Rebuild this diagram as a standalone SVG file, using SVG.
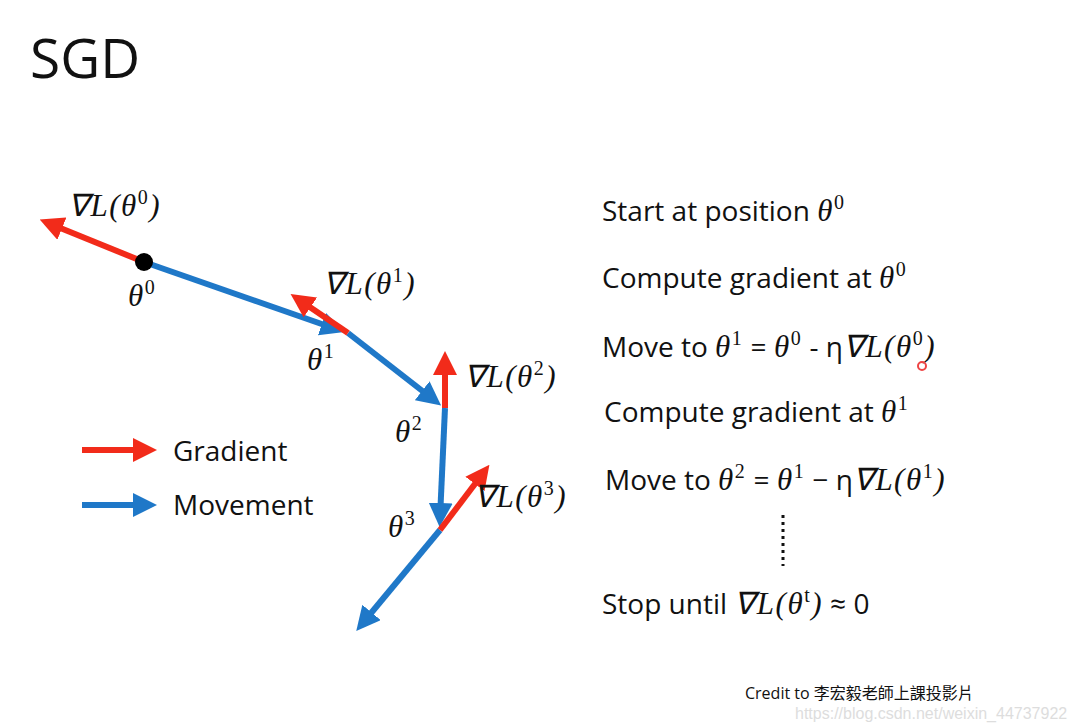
<svg xmlns="http://www.w3.org/2000/svg" width="1076" height="727" viewBox="0 0 1076 727">
<style>
.t{font-family:"Open Sans","Liberation Sans",sans-serif;font-size:28px;fill:#111}
.m{font-family:"Liberation Serif",serif;font-style:italic;font-size:31px;fill:#111;letter-spacing:1.5px}
.s{font-size:20px;font-style:normal}
.r{stroke:#f22b1a;stroke-width:6;fill:none}
.b{stroke:#1f78c8;stroke-width:6;fill:none}
</style>
<defs>
<marker id="ar" markerWidth="4" markerHeight="4" refX="2.5" refY="2" orient="auto" markerUnits="strokeWidth"><path d="M0,0L4,2L0,4z" fill="#f22b1a"/></marker>
<marker id="ab" markerWidth="4" markerHeight="4" refX="2.5" refY="2" orient="auto" markerUnits="strokeWidth"><path d="M0,0L4,2L0,4z" fill="#1f78c8"/></marker>
</defs>
<rect width="1076" height="727" fill="#fff"/>
<text x="30" y="78" font-family="Open Sans,Liberation Sans,sans-serif" font-size="55" fill="#111">SGD</text>
<g id="connectors">
<line class="b" x1="144" y1="262" x2="336" y2="329" marker-end="url(#ab)"/>
<line class="b" x1="348" y1="333" x2="434" y2="400" marker-end="url(#ab)"/>
<line class="b" x1="445" y1="408" x2="440" y2="518" marker-end="url(#ab)"/>
<line class="b" x1="440" y1="530" x2="362" y2="624" marker-end="url(#ab)"/>
<line class="r" x1="144" y1="262" x2="48" y2="223" marker-end="url(#ar)"/>
<line class="r" x1="348" y1="333" x2="298" y2="299" marker-end="url(#ar)"/>
<line class="r" x1="445" y1="408" x2="445" y2="360" marker-end="url(#ar)"/>
<line class="r" x1="440" y1="530" x2="484" y2="472" marker-end="url(#ar)"/>
<line class="r" x1="82" y1="450" x2="148" y2="450" marker-end="url(#ar)"/>
<line class="b" x1="82" y1="505" x2="148" y2="505" marker-end="url(#ab)"/>
</g>
<g id="theta0"><circle cx="144" cy="262" r="9" fill="#000"/>
<text class="m" x="128" y="306">θ<tspan class="s" dy="-12">0</tspan></text>
<text class="m" x="68" y="216">∇L(θ<tspan class="s" dy="-12">0</tspan><tspan dy="12">)</tspan></text></g>
<g id="theta1"><text class="m" x="307" y="370">θ<tspan class="s" dy="-12">1</tspan></text>
<text class="m" x="323" y="294">∇L(θ<tspan class="s" dy="-12">1</tspan><tspan dy="12">)</tspan></text></g>
<g id="theta2"><text class="m" x="395" y="442">θ<tspan class="s" dy="-12">2</tspan></text>
<text class="m" x="464" y="387">∇L(θ<tspan class="s" dy="-12">2</tspan><tspan dy="12">)</tspan></text></g>
<g id="theta3"><text class="m" x="388" y="537">θ<tspan class="s" dy="-12">3</tspan></text>
<text class="m" x="474" y="507">∇L(θ<tspan class="s" dy="-12">3</tspan><tspan dy="12">)</tspan></text></g>
<g id="legend"><text class="t" x="173" y="461">Gradient</text><text class="t" x="173" y="515">Movement</text></g>
<g id="steps">
<text class="t" x="602" y="221">Start at position <tspan class="m">θ</tspan><tspan class="m s" dy="-12">0</tspan></text>
<text class="t" x="602" y="288">Compute gradient at <tspan class="m">θ</tspan><tspan class="m s" dy="-12">0</tspan></text>
<text class="t" x="602" y="357">Move to <tspan class="m">θ</tspan><tspan class="m s" dy="-12">1</tspan><tspan dy="12"> = </tspan><tspan class="m">θ</tspan><tspan class="m s" dy="-12">0</tspan><tspan dy="12"> - η</tspan><tspan class="m">∇L(θ</tspan><tspan class="m s" dy="-12">0</tspan><tspan class="m" dy="12">)</tspan></text>
<text class="t" x="604" y="422">Compute gradient at <tspan class="m">θ</tspan><tspan class="m s" dy="-12">1</tspan></text>
<text class="t" x="605" y="490">Move to <tspan class="m">θ</tspan><tspan class="m s" dy="-12">2</tspan><tspan dy="12"> = </tspan><tspan class="m">θ</tspan><tspan class="m s" dy="-12">1</tspan><tspan dy="12"> − η</tspan><tspan class="m">∇L(θ</tspan><tspan class="m s" dy="-12">1</tspan><tspan class="m" dy="12">)</tspan></text>
<line x1="783" y1="515" x2="783" y2="566" stroke="#111" stroke-width="3" stroke-dasharray="3,4"/>
<text class="t" x="602" y="614">Stop until <tspan class="m">∇L(θ</tspan><tspan class="m s" dy="-12">t</tspan><tspan class="m" dy="12">)</tspan> ≈ 0</text>
</g>
<circle cx="922" cy="366" r="4" fill="none" stroke="#e44" stroke-width="2"/>
<text x="745" y="699" font-family="Open Sans,Liberation Sans,Noto Sans CJK TC,sans-serif" font-size="16" fill="#111">Credit to 李宏毅老師上課投影片</text>
<text x="795" y="719" font-family="Liberation Sans,sans-serif" font-size="16" fill="#ddd">https://blog.csdn.net/weixin_44737922</text>
</svg>
